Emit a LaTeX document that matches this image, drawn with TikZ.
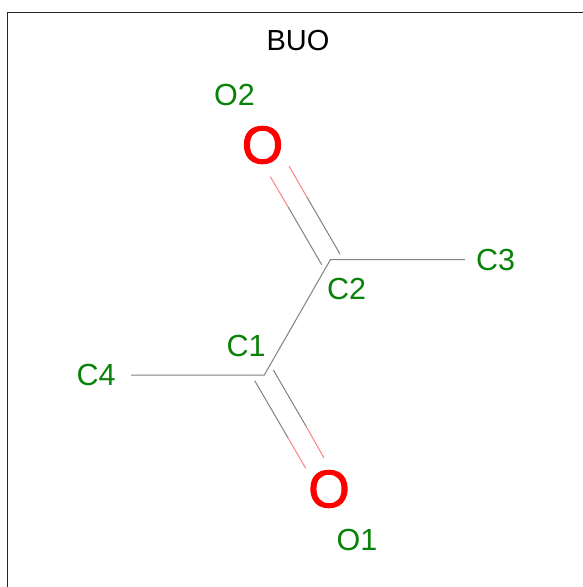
\documentclass[tikz,border=0pt]{standalone}
\usepackage{fontspec}
\setmainfont{Liberation Sans}
\newfontfamily\oxyfont[FakeBold=2]{Liberation Sans}
\definecolor{lbl}{RGB}{10,130,10}
\definecolor{bondgray}{RGB}{130,130,130}
\definecolor{bondred}{RGB}{255,130,130}
\tikzset{
  x=1pt,y=-1pt,
  atomlabel/.style={text=lbl,font=\fontsize{30.5}{30.5}\selectfont,inner sep=0pt,anchor=center},
  titlelabel/.style={text=black,font=\fontsize{29}{29}\selectfont,inner sep=0pt,anchor=center},
  oxygen/.style={text=red,font=\oxyfont\fontsize{53}{53}\selectfont,inner sep=0pt,anchor=center},
  bond/.style={draw=bondgray,line width=1pt},
  obond/.style={draw=bondred,line width=1pt},
  frameline/.style={draw=black!85,line width=1pt}
}
\begin{document}
\begin{tikzpicture}
\useasboundingbox (0,0) rectangle (583,587);
\fill[white] (0,0) rectangle (583,587);
\coordinate (ftl) at (7.5,12.5);
\coordinate (ftr) at (583,12.5);
\coordinate (fbl) at (7.5,587);
\draw[frameline] (ftr) -- (ftl) -- (fbl);
\node[titlelabel] (title) at (298,40.5) {BUO};
\node[atomlabel] (lO2) at (234.5,95) {O2};
\node[atomlabel] (lC3) at (495.5,260) {C3};
\node[atomlabel] (lC2) at (346.5,289) {C2};
\node[atomlabel] (lC1) at (246,346) {C1};
\node[atomlabel] (lC4) at (96,375) {C4};
\node[atomlabel] (lO1) at (357,540) {O1};
\node[oxygen] (O2) at (262.5,145) {O};
\node[oxygen] (O1) at (329,489) {O};
\coordinate (C1) at (264.3,375);
\coordinate (C2) at (330.5,259.5);
\coordinate (C3) at (465,259.5);
\coordinate (C4) at (131,375);
\draw[bond] (C4) -- (C1) -- (C2) -- (C3);
% C2=O2
\coordinate (a1) at (340,254);
\coordinate (a2) at (306.7,196.7);
\coordinate (a3) at (289,166);
\coordinate (b1) at (321.7,264.7);
\coordinate (b2) at (288,206.7);
\coordinate (b3) at (270.3,176.7);
\draw[bond] (a1) -- (a2);
\draw[obond] (a2) -- (a3);
\draw[bond] (b1) -- (b2);
\draw[obond] (b2) -- (b3);
% C1=O1
\coordinate (c1) at (273.3,370);
\coordinate (c2) at (306.7,427.3);
\coordinate (c3) at (324,458);
\coordinate (d1) at (254.7,380.7);
\coordinate (d2) at (288.3,438.3);
\coordinate (d3) at (305.7,468.3);
\draw[bond] (c1) -- (c2);
\draw[obond] (c2) -- (c3);
\draw[bond] (d1) -- (d2);
\draw[obond] (d2) -- (d3);
\end{tikzpicture}
\end{document}
